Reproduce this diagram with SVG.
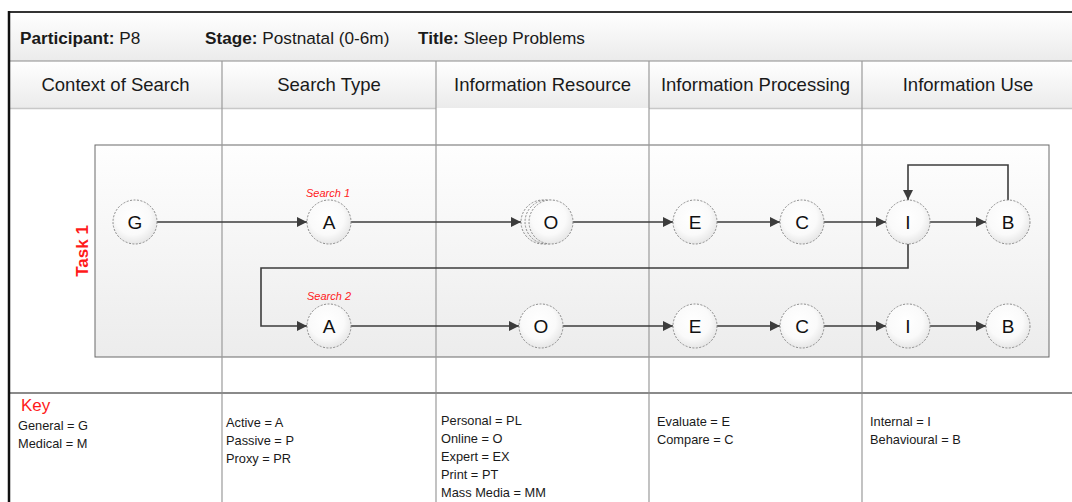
<svg xmlns="http://www.w3.org/2000/svg" width="1072" height="502" viewBox="0 0 1072 502">
  <defs>
    <linearGradient id="barGrad" x1="0" y1="0" x2="0" y2="1">
      <stop offset="0" stop-color="#ffffff"/>
      <stop offset="1" stop-color="#ebebeb"/>
    </linearGradient>
    <linearGradient id="panelGrad" x1="0" y1="0" x2="0" y2="1">
      <stop offset="0" stop-color="#fefefe"/>
      <stop offset="1" stop-color="#ececec"/>
    </linearGradient>
    <radialGradient id="nodeGrad" cx="0.45" cy="0.4" r="0.65">
      <stop offset="0" stop-color="#ffffff"/>
      <stop offset="0.6" stop-color="#fafafa"/>
      <stop offset="1" stop-color="#e2e2e2"/>
    </radialGradient>
    <marker id="arrow" viewBox="0 0 10 10" refX="10" refY="5" markerWidth="10" markerHeight="10" markerUnits="userSpaceOnUse" orient="auto">
      <path d="M0,0 L10,5 L0,10 z" fill="#3c3c3c"/>
    </marker>
  </defs>
  <style>
    .sans { font-family: "Liberation Sans", Arial, sans-serif; }
    .hdr { font-family: "Liberation Sans", Arial, sans-serif; font-size: 18.5px; fill: #1a1a1a; text-anchor: middle; }
    .title { font-family: "Liberation Sans", Arial, sans-serif; font-size: 17.2px; fill: #1a1a1a; }
    .key { font-family: "Liberation Sans", Arial, sans-serif; font-size: 12.8px; fill: #1a1a1a; }
    .node circle { fill: url(#nodeGrad); stroke: #8a8a8a; stroke-width: 1; stroke-dasharray: 2 1.5; }
    .node text { font-family: "Liberation Sans", Arial, sans-serif; font-size: 19px; fill: #111; text-anchor: middle; }
    .conn { fill: none; stroke: #3c3c3c; stroke-width: 1.6; marker-end: url(#arrow); }
    .col { stroke: #9a9a9a; stroke-width: 1.2; }
    .search { font-family: "Liberation Sans", Arial, sans-serif; font-size: 11px; font-style: italic; fill: #ff1a1a; text-anchor: middle; }
  </style>

  <!-- background -->
  <rect x="0" y="0" width="1072" height="502" fill="#ffffff"/>

  <!-- title bar -->
  <rect x="9" y="12" width="1063" height="49" fill="url(#barGrad)"/>
  <text class="title" x="20" y="44"><tspan font-weight="bold">Participant:</tspan> P8</text>
  <text class="title" x="205" y="44"><tspan font-weight="bold">Stage:</tspan> Postnatal (0-6m)</text>
  <text class="title" x="418" y="44"><tspan font-weight="bold">Title:</tspan> Sleep Problems</text>

  <!-- column header row -->
  <rect x="9" y="61" width="1063" height="47" fill="url(#barGrad)"/>
  <line x1="9" y1="61" x2="1072" y2="61" stroke="#8c8c8c" stroke-width="1.2"/>
  <line x1="9" y1="108.5" x2="436" y2="108.5" stroke="#c8c8c8" stroke-width="1.5"/>
  <line x1="649" y1="108.5" x2="1072" y2="108.5" stroke="#c8c8c8" stroke-width="1.5"/>
  <text class="hdr" x="115.5" y="91">Context of Search</text>
  <text class="hdr" x="329" y="91">Search Type</text>
  <text class="hdr" x="542.5" y="91">Information Resource</text>
  <text class="hdr" x="755.5" y="91">Information Processing</text>
  <text class="hdr" x="968" y="91">Information Use</text>

  <!-- task panel -->
  <rect x="95" y="145" width="954" height="212" fill="url(#panelGrad)" stroke="#6a6a6a" stroke-width="1"/>

  <!-- column dividers and key separator -->
  <g id="grid">
    <line class="col" x1="222" y1="61" x2="222" y2="502"/>
    <line class="col" x1="436" y1="61" x2="436" y2="502"/>
    <line class="col" x1="649" y1="61" x2="649" y2="502"/>
    <line class="col" x1="862" y1="61" x2="862" y2="502" stroke="#8a8a8a" stroke-width="1.8"/>
    <line x1="9" y1="393" x2="1072" y2="393" stroke="#8a8a8a" stroke-width="1.8"/>
  </g>

  <!-- outer frame -->
  <line x1="8" y1="12" x2="1072" y2="12" stroke="#333" stroke-width="2"/>
  <line x1="9" y1="11" x2="9" y2="502" stroke="#111" stroke-width="2.5"/>

  <!-- task label -->
  <text class="sans" x="0" y="0" transform="translate(88,251) rotate(-90)" font-size="17" font-weight="bold" fill="#ff1a1a" text-anchor="middle">Task 1</text>

  <!-- search labels -->
  <text class="search" x="328" y="197">Search 1</text>
  <text class="search" x="329" y="300">Search 2</text>

  <!-- connectors -->
  <g id="connectors">
    <path class="conn" d="M157,222 H307"/>
    <path class="conn" d="M351,222 H521"/>
    <path class="conn" d="M572,222 H673"/>
    <path class="conn" d="M717,222 H780"/>
    <path class="conn" d="M824,222 H886"/>
    <path class="conn" d="M930,222 H986"/>
    <path class="conn" d="M1008,201 V165 H908 V200"/>
    <path class="conn" d="M908,244 V268 H261 V326 H307"/>
    <path class="conn" d="M351,326 H519"/>
    <path class="conn" d="M563,326 H673"/>
    <path class="conn" d="M717,326 H780"/>
    <path class="conn" d="M824,326 H886"/>
    <path class="conn" d="M930,326 H986"/>
  </g>

  <!-- row 1 nodes -->
  <g id="node-g1" class="node"><circle cx="135" cy="222" r="22"/><text x="135" y="229">G</text></g>
  <g id="node-a1" class="node"><circle cx="329" cy="222" r="22"/><text x="329" y="229">A</text></g>
  <g id="node-o1" class="node">
    <circle cx="543" cy="222" r="22"/>
    <circle cx="547" cy="222" r="22"/>
    <circle cx="551" cy="222" r="22"/>
    <text x="551" y="229">O</text>
  </g>
  <g id="node-e1" class="node"><circle cx="695" cy="222" r="22"/><text x="695" y="229">E</text></g>
  <g id="node-c1" class="node"><circle cx="802" cy="222" r="22"/><text x="802" y="229">C</text></g>
  <g id="node-i1" class="node"><circle cx="908" cy="222" r="22"/><text x="908" y="229">I</text></g>
  <g id="node-b1" class="node"><circle cx="1008" cy="222" r="22"/><text x="1008" y="229">B</text></g>

  <!-- row 2 nodes -->
  <g id="node-a2" class="node"><circle cx="329" cy="326" r="22"/><text x="329" y="333">A</text></g>
  <g id="node-o2" class="node"><circle cx="541" cy="326" r="22"/><text x="541" y="333">O</text></g>
  <g id="node-e2" class="node"><circle cx="695" cy="326" r="22"/><text x="695" y="333">E</text></g>
  <g id="node-c2" class="node"><circle cx="802" cy="326" r="22"/><text x="802" y="333">C</text></g>
  <g id="node-i2" class="node"><circle cx="908" cy="326" r="22"/><text x="908" y="333">I</text></g>
  <g id="node-b2" class="node"><circle cx="1008" cy="326" r="22"/><text x="1008" y="333">B</text></g>

  <!-- key -->
  <g id="key">
    <text class="sans" x="21" y="411" font-size="17" fill="#ff1a1a">Key</text>
    <text class="key" x="18" y="430">General = G</text>
    <text class="key" x="18" y="448">Medical = M</text>

    <text class="key" x="226" y="427">Active = A</text>
    <text class="key" x="226" y="445">Passive = P</text>
    <text class="key" x="226" y="463">Proxy = PR</text>

    <text class="key" x="441" y="425">Personal = PL</text>
    <text class="key" x="441" y="443">Online = O</text>
    <text class="key" x="441" y="461">Expert = EX</text>
    <text class="key" x="441" y="479">Print = PT</text>
    <text class="key" x="441" y="497">Mass Media = MM</text>

    <text class="key" x="657" y="426">Evaluate = E</text>
    <text class="key" x="657" y="444">Compare = C</text>

    <text class="key" x="870" y="426">Internal = I</text>
    <text class="key" x="870" y="444">Behavioural = B</text>
  </g>
</svg>
